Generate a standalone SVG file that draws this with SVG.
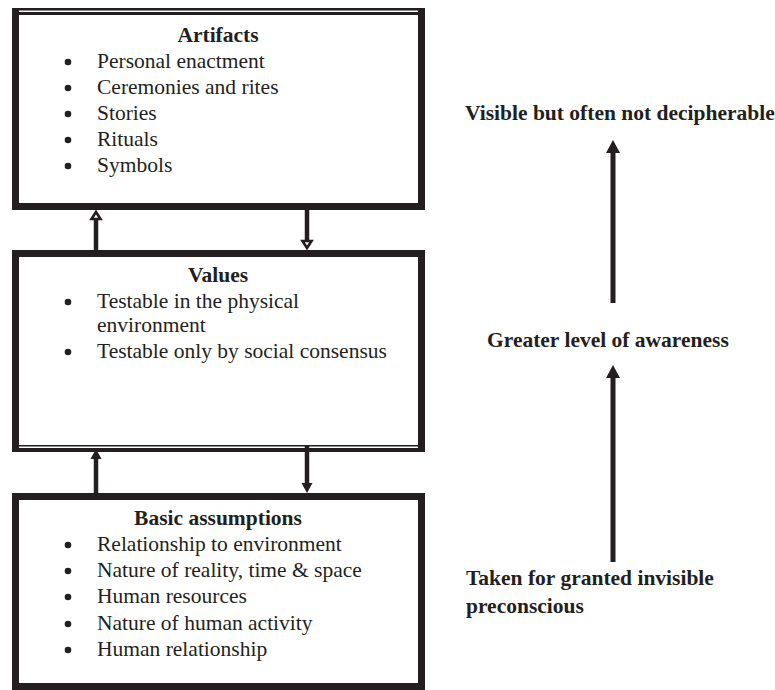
<svg xmlns="http://www.w3.org/2000/svg" width="775" height="690" viewBox="0 0 775 690">
<style>
.box{fill:#fff;stroke:#231f20;stroke-width:7}
.gap{stroke:#fff;stroke-width:1.6}
.t{font-family:"Liberation Serif","Times New Roman",serif;font-size:21.5px;fill:#231f20}
.b{font-weight:bold}
.c{text-anchor:middle}
.bu{fill:#231f20}
.sh{stroke:#231f20;stroke-width:4.5;fill:none}
.hd{fill:#231f20}
.ho{fill:#fff;stroke:#231f20;stroke-width:2.6;stroke-linejoin:miter}
</style>
<rect width="775" height="690" fill="#fff"/>
<g id="artifacts">
<rect class="box" x="15.5" y="11.5" width="406" height="195"/>
<line class="gap" x1="19" y1="11.2" x2="418" y2="11.2"/>
<text class="t b c" x="218" y="42">Artifacts</text>
<g class="bu">
<circle cx="68" cy="62" r="3.3"/><circle cx="68" cy="88" r="3.3"/><circle cx="68" cy="114" r="3.3"/><circle cx="68" cy="140" r="3.3"/><circle cx="68" cy="166" r="3.3"/>
</g>
<g class="t">
<text x="97" y="68">Personal enactment</text>
<text x="97" y="94">Ceremonies and rites</text>
<text x="97" y="120">Stories</text>
<text x="97" y="146">Rituals</text>
<text x="97" y="172">Symbols</text>
</g>
</g>
<g id="values">
<rect class="box" x="15.5" y="253.5" width="406" height="195"/>
<line class="gap" x1="19" y1="447.3" x2="418" y2="447.3"/>
<text class="t b c" x="218" y="282">Values</text>
<g class="bu">
<circle cx="68" cy="302" r="3.3"/><circle cx="68" cy="352" r="3.3"/>
</g>
<g class="t">
<text x="97" y="308">Testable in the physical</text>
<text x="97" y="332">environment</text>
<text x="97" y="358">Testable only by social consensus</text>
</g>
</g>
<g id="assumptions">
<rect class="box" x="15.5" y="496.5" width="406" height="190"/>
<text class="t b c" x="218" y="525">Basic assumptions</text>
<g class="bu">
<circle cx="68" cy="545" r="3.3"/><circle cx="68" cy="571" r="3.3"/><circle cx="68" cy="597" r="3.3"/><circle cx="68" cy="624" r="3.3"/><circle cx="68" cy="650" r="3.3"/>
</g>
<g class="t">
<text x="97" y="551">Relationship to environment</text>
<text x="97" y="577">Nature of reality, time &amp; space</text>
<text x="97" y="603">Human resources</text>
<text x="97" y="630">Nature of human activity</text>
<text x="97" y="656">Human relationship</text>
</g>
</g>
<g id="labels" class="t b">
<text x="465" y="120">Visible but often not decipherable</text>
<text x="487" y="347">Greater level of awareness</text>
<text x="466" y="585">Taken for granted invisible</text>
<text x="466" y="613">preconscious</text>
</g>
<g id="connectors">
<line class="sh" x1="96" y1="250" x2="96" y2="218"/>
<polygon class="ho" points="96,212 100.5,219 91.5,219"/>
<line class="sh" x1="307" y1="210" x2="307" y2="242"/>
<polygon class="ho" points="307,248 311.5,241 302.5,241"/>
<line class="sh" x1="96" y1="493" x2="96" y2="458"/>
<polygon class="hd" points="96,449 101.5,459 90.5,459"/>
<line class="sh" x1="307" y1="446" x2="307" y2="484"/>
<polygon class="hd" points="307,493 312.5,483 301.5,483"/>
<line class="sh" x1="613" y1="303" x2="613" y2="150" style="stroke-width:5"/>
<polygon class="hd" points="613,140 620,153 606,153"/>
<line class="sh" x1="613" y1="562" x2="613" y2="375" style="stroke-width:5"/>
<polygon class="hd" points="613,365 620,378 606,378"/>
</g>
</svg>
